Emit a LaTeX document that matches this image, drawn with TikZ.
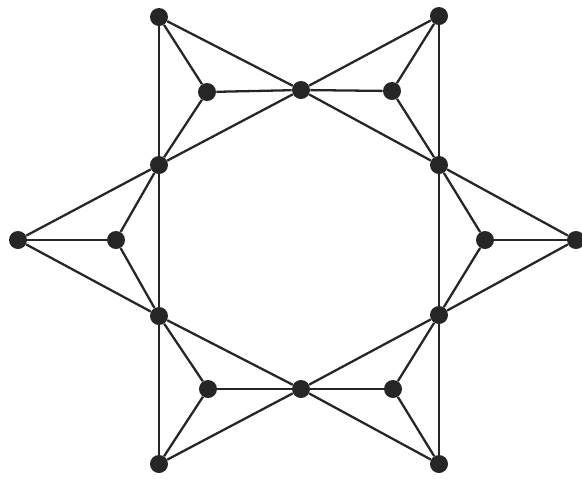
\documentclass[tikz,border=0pt]{standalone}
\usepackage{tikz}

\begin{document}
\begin{tikzpicture}[x=0.02cm,y=-0.02cm,
  vert/.style={circle,fill=black!85,inner sep=0pt,minimum size=0.36cm},
  edge/.style={draw=black!85,line width=1.3pt}]
\useasboundingbox (0,0) rectangle (582,478);
% vertices
\node[vert] (tl) at (159,17) {};
\node[vert] (tr) at (439,16) {};
\node[vert] (ta) at (207,92) {};
\node[vert] (tm) at (301,90) {};
\node[vert] (tb) at (392,91) {};
\node[vert] (ul) at (159,165) {};
\node[vert] (ur) at (439,165) {};
\node[vert] (lo) at (18,240) {};
\node[vert] (li) at (116,240) {};
\node[vert] (ri) at (485,240) {};
\node[vert] (ro) at (576,240) {};
\node[vert] (dl) at (159,316) {};
\node[vert] (dr) at (439,315) {};
\node[vert] (ba) at (208,389) {};
\node[vert] (bm) at (301,389) {};
\node[vert] (bb) at (393,389) {};
\node[vert] (bl) at (159,464) {};
\node[vert] (br) at (439,464) {};
% sides
\draw[edge] (tl) -- (ul) -- (dl) -- (bl);
\draw[edge] (tr) -- (ur) -- (dr) -- (br);
% top
\draw[edge] (tl) -- (ta) -- (ul);
\draw[edge] (tl) -- (tm) -- (ur);
\draw[edge] (tr) -- (tm) -- (ul);
\draw[edge] (ta) -- (tm) -- (tb);
\draw[edge] (tr) -- (tb) -- (ur);
% left
\draw[edge] (ul) -- (lo) -- (dl);
\draw[edge] (ul) -- (li) -- (dl);
\draw[edge] (lo) -- (li);
% right
\draw[edge] (ur) -- (ro) -- (dr);
\draw[edge] (ur) -- (ri) -- (dr);
\draw[edge] (ri) -- (ro);
% bottom
\draw[edge] (dl) -- (ba) -- (bl);
\draw[edge] (dl) -- (bm) -- (br);
\draw[edge] (dr) -- (bm) -- (bl);
\draw[edge] (ba) -- (bm) -- (bb);
\draw[edge] (dr) -- (bb) -- (br);
\end{tikzpicture}
\end{document}
